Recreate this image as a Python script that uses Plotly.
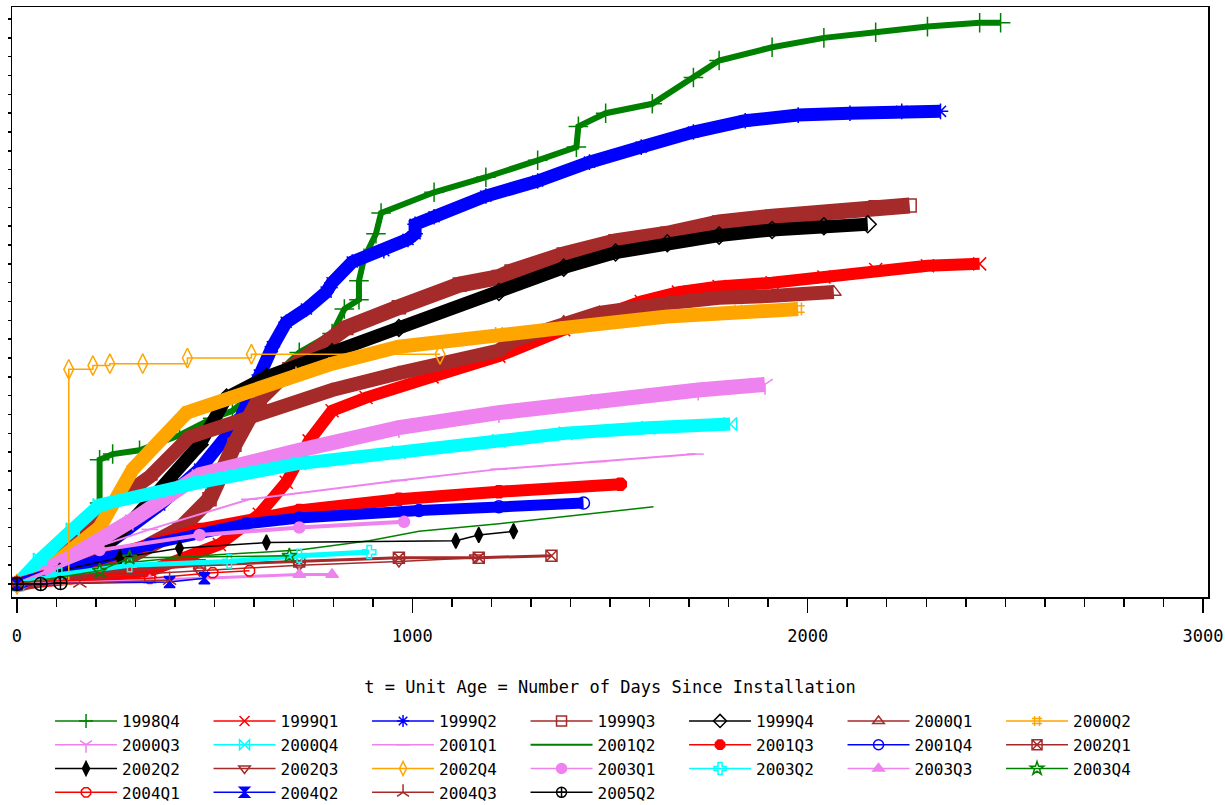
import plotly.graph_objects as go

# ---------------- data (t = days since installation, MCF value) ----------------
labels = ["1998Q4", "1999Q1", "1999Q2", "1999Q3", "1999Q4", "2000Q1", "2000Q2",
          "2000Q3", "2000Q4", "2001Q1", "2001Q2", "2001Q3", "2001Q4", "2002Q1",
          "2002Q2", "2002Q3", "2002Q4", "2003Q1", "2003Q2", "2003Q3", "2003Q4",
          "2004Q1", "2004Q2", "2004Q3", "2005Q2"]

d_1998Q4 = [0, 108, 209, 209, 242, 310, 411, 495, 545, 638, 714, 797, 828, 865, 865, 878, 908, 921,
            1055, 1186, 1317, 1415, 1420, 1489, 1607, 1711, 1776, 1910, 2041, 2172, 2303, 2435, 2488]
v_1998Q4 = [0, 0.13, 0.43, 0.66, 0.69, 0.71, 0.79, 0.88, 0.92, 1.08, 1.23, 1.33, 1.46, 1.51, 1.61, 1.73, 1.86, 1.97,
            2.08, 2.16, 2.25, 2.32, 2.43, 2.50, 2.55, 2.69, 2.78, 2.85, 2.90, 2.93, 2.96, 2.98, 2.98]

d_1999Q1 = [0, 336, 512, 613, 681, 739, 797, 883, 1050, 1219, 1383, 1489, 1579, 1673, 1776, 1910, 2041, 2172, 2303, 2435]
v_1999Q1 = [0, 0.07, 0.21, 0.37, 0.54, 0.76, 0.92, 0.99, 1.10, 1.21, 1.35, 1.44, 1.50, 1.55, 1.58, 1.60, 1.63, 1.67, 1.69, 1.70]

d_1999Q2 = [0, 209, 361, 462, 563, 613, 646, 681, 732, 782, 797, 848, 928, 989, 1007, 1007, 1055, 1186,
            1317, 1448, 1579, 1711, 1842, 1976, 2107, 2238, 2336]
v_1999Q2 = [0, 0.18, 0.42, 0.61, 0.87, 1.11, 1.26, 1.39, 1.46, 1.55, 1.60, 1.71, 1.77, 1.83, 1.86, 1.91, 1.95, 2.06,
            2.14, 2.24, 2.32, 2.40, 2.46, 2.49, 2.50, 2.51, 2.51]

d_1999Q3 = [0, 260, 411, 487, 550, 613, 689, 757, 833, 966, 1120, 1219, 1251, 1383, 1514, 1645, 1776, 1910, 2041, 2172, 2258]
v_1999Q3 = [0, 0.12, 0.29, 0.45, 0.74, 0.98, 1.14, 1.24, 1.36, 1.47, 1.59, 1.63, 1.66, 1.75, 1.82, 1.86, 1.92, 1.95, 1.97, 2.00, 2.01]

d_1999Q4 = [0, 209, 293, 386, 462, 530, 631, 797, 966, 1219, 1383, 1514, 1645, 1776, 1910, 2041, 2152]
v_1999Q4 = [0, 0.17, 0.34, 0.55, 0.74, 0.99, 1.10, 1.23, 1.36, 1.55, 1.68, 1.76, 1.81, 1.85, 1.88, 1.90, 1.91]

d_2000Q1 = [0, 108, 209, 336, 436, 631, 797, 966, 1219, 1251, 1383, 1473, 1645, 1776, 1910, 2066]
v_2000Q1 = [0, 0.13, 0.38, 0.57, 0.78, 0.92, 1.03, 1.12, 1.24, 1.29, 1.39, 1.44, 1.49, 1.52, 1.53, 1.55]

d_2000Q2 = [0, 108, 209, 293, 429, 545, 714, 797, 966, 1219, 1383, 1645, 1824, 1976]
v_2000Q2 = [0, 0.13, 0.30, 0.61, 0.91, 0.99, 1.12, 1.17, 1.26, 1.33, 1.36, 1.42, 1.45, 1.46]

d_2000Q3 = [0, 126, 293, 462, 714, 966, 1219, 1471, 1723, 1892]
v_2000Q3 = [0, 0.13, 0.34, 0.58, 0.71, 0.83, 0.91, 0.98, 1.03, 1.06]

d_2000Q4 = [0, 58, 141, 209, 462, 714, 966, 1219, 1388, 1597, 1804]
v_2000Q4 = [0, 0.13, 0.29, 0.42, 0.54, 0.64, 0.70, 0.76, 0.80, 0.83, 0.85]

d_2001Q1 = [0, 108, 336, 588, 966, 1219, 1471, 1716]
v_2001Q1 = [0, 0.13, 0.29, 0.45, 0.55, 0.61, 0.65, 0.69]

d_2001Q2 = [0, 209, 462, 714, 891, 1017, 1219, 1471, 1610]
v_2001Q2 = [0, 0.10, 0.15, 0.18, 0.23, 0.28, 0.32, 0.38, 0.41]

d_2001Q3 = [0, 209, 462, 714, 966, 1219, 1526]
v_2001Q3 = [0, 0.13, 0.29, 0.39, 0.45, 0.49, 0.53]

d_2001Q4 = [0, 159, 336, 580, 714, 1017, 1219, 1433]
v_2001Q4 = [0, 0.10, 0.21, 0.32, 0.35, 0.39, 0.41, 0.43]

d_2002Q1 = [0, 209, 462, 714, 966, 1168, 1352]
v_2002Q1 = [0, 0.06, 0.10, 0.12, 0.14, 0.14, 0.15]

d_2002Q2 = [0, 108, 260, 411, 631, 1110, 1168, 1256]
v_2002Q2 = [0, 0.07, 0.14, 0.19, 0.22, 0.23, 0.26, 0.28]

d_2002Q3 = [0, 209, 462, 714, 966, 1160]
v_2002Q3 = [0, 0.04, 0.07, 0.10, 0.12, 0.14]

d_2002Q4 = [0, 131, 192, 235, 318, 431, 593, 1070]
v_2002Q4 = [0, 1.14, 1.16, 1.17, 1.17, 1.20, 1.22, 1.22]

d_2003Q1 = [0, 83, 209, 462, 714, 979]
v_2003Q1 = [0, 0.07, 0.18, 0.26, 0.30, 0.33]

d_2003Q2 = [0, 108, 285, 537, 714, 891]
v_2003Q2 = [0, 0.05, 0.10, 0.12, 0.15, 0.17]

d_2003Q3 = [0, 336, 714, 797]
v_2003Q3 = [0, 0.02, 0.05, 0.05]

d_2003Q4 = [0, 209, 285, 689]
v_2003Q4 = [0, 0.07, 0.14, 0.15]

d_2004Q1 = [0, 336, 495, 588]
v_2004Q1 = [0.01, 0.03, 0.06, 0.07]

d_2004Q2 = [0, 386, 474]
v_2004Q2 = [0, 0.01, 0.03]

d_2004Q3 = [0, 159, 386]
v_2004Q3 = [0, 0.005, 0.02]

d_2005Q2 = [0, 60, 110]
v_2005Q2 = [0, 0, 0.005]

x_major_ticks = [0, 1000, 2000, 3000]
x_tick_labels = ["0", "1000", "2000", "3000"]
x_title = "t = Unit Age = Number of Days Since Installation"

# ---------------- styles ----------------
GREEN, RED, BLUE, BROWN = "#008000", "#FF0000", "#0000FF", "#A52A2A"
BLACK, ORANGE, VIOLET, CYAN = "#000000", "#FFA500", "#EE82EE", "#00FFFF"

# color, marker symbol, band (line) width, marker size, line shape
styles = {
    "1998Q4": (GREEN, "cross-thin", 6, 14, "linear"),
    "1999Q1": (RED, "x-thin", 12, 13, "linear"),
    "1999Q2": (BLUE, "asterisk", 13, 13, "linear"),
    "1999Q3": (BROWN, "square-open", 16, 13, "linear"),
    "1999Q4": (BLACK, "diamond-open", 13, 13, "linear"),
    "2000Q1": (BROWN, "triangle-up-open", 14, 13, "linear"),
    "2000Q2": (ORANGE, "hash", 14, 13, "linear"),
    "2000Q3": (VIOLET, "y-down", 15, 13, "linear"),
    "2000Q4": (CYAN, "bowtie-open", 13, 13, "linear"),
    "2001Q1": (VIOLET, "line-ew", 2, 12, "linear"),
    "2001Q2": (GREEN, None, 1.5, 0, "linear"),
    "2001Q3": (RED, "octagon", 12, 13, "linear"),
    "2001Q4": (BLUE, "circle-open", 11, 12, "linear"),
    "2002Q1": (BROWN, "square-x-open", 3, 11, "linear"),
    "2002Q2": (BLACK, "diamond-tall", 1.5, 11, "linear"),
    "2002Q3": (BROWN, "triangle-down-open", 1.5, 11, "linear"),
    "2002Q4": (ORANGE, "diamond-tall-open", 1.5, 14, "hv"),
    "2003Q1": (VIOLET, "circle-cross", 4, 11, "linear"),
    "2003Q2": (CYAN, "cross-open", 5, 11, "linear"),
    "2003Q3": (VIOLET, "triangle-up", 3, 11, "linear"),
    "2003Q4": (GREEN, "star-open", 1.5, 11, "linear"),
    "2004Q1": (RED, "octagon-open", 1.5, 11, "linear"),
    "2004Q2": (BLUE, "hourglass", 1.5, 11, "linear"),
    "2004Q3": (BROWN, "y-up-open", 1.5, 11, "linear"),
    "2005Q2": (BLACK, "circle-cross-open", 1.5, 13, "linear"),
}

series = {
    "1998Q4": (d_1998Q4, v_1998Q4), "1999Q1": (d_1999Q1, v_1999Q1),
    "1999Q2": (d_1999Q2, v_1999Q2), "1999Q3": (d_1999Q3, v_1999Q3),
    "1999Q4": (d_1999Q4, v_1999Q4), "2000Q1": (d_2000Q1, v_2000Q1),
    "2000Q2": (d_2000Q2, v_2000Q2), "2000Q3": (d_2000Q3, v_2000Q3),
    "2000Q4": (d_2000Q4, v_2000Q4), "2001Q1": (d_2001Q1, v_2001Q1),
    "2001Q2": (d_2001Q2, v_2001Q2), "2001Q3": (d_2001Q3, v_2001Q3),
    "2001Q4": (d_2001Q4, v_2001Q4), "2002Q1": (d_2002Q1, v_2002Q1),
    "2002Q2": (d_2002Q2, v_2002Q2), "2002Q3": (d_2002Q3, v_2002Q3),
    "2002Q4": (d_2002Q4, v_2002Q4), "2003Q1": (d_2003Q1, v_2003Q1),
    "2003Q2": (d_2003Q2, v_2003Q2), "2003Q3": (d_2003Q3, v_2003Q3),
    "2003Q4": (d_2003Q4, v_2003Q4), "2004Q1": (d_2004Q1, v_2004Q1),
    "2004Q2": (d_2004Q2, v_2004Q2), "2004Q3": (d_2004Q3, v_2004Q3),
    "2005Q2": (d_2005Q2, v_2005Q2),
}

FONT = "DejaVu Sans Mono"
fig = go.Figure()

# data traces (drawn in legend order, later cohorts on top)
for lab in labels:
    col, sym, lw, ms, shape = styles[lab]
    xs, ys = series[lab]
    if sym is None:
        fig.add_trace(go.Scatter(x=xs, y=ys, mode="lines", line=dict(color=col, width=lw, shape=shape),
                                 showlegend=False, hoverinfo="skip"))
    else:
        fig.add_trace(go.Scatter(x=xs, y=ys, mode="lines+markers",
                                 line=dict(color=col, width=lw, shape=shape),
                                 marker=dict(symbol=sym, size=ms, color=col, line=dict(color=col, width=1.5)),
                                 showlegend=False, hoverinfo="skip"))

# legend-only entries with thin symbol lines
for lab in labels:
    col, sym, lw, ms, shape = styles[lab]
    if sym is None:
        fig.add_trace(go.Scatter(x=[None], y=[None], mode="lines", name=lab,
                                 line=dict(color=col, width=2)))
    else:
        fig.add_trace(go.Scatter(x=[None], y=[None], mode="lines+markers", name=lab,
                                 line=dict(color=col, width=1.5),
                                 marker=dict(symbol=sym, size=10, color=col, line=dict(color=col, width=1.5))))

fig.update_layout(
    width=1225, height=805,
    margin=dict(l=12, r=17, t=7, b=208, autoexpand=False),
    paper_bgcolor="white", plot_bgcolor="white",
    font=dict(family=FONT, size=17, color="black"),
    showlegend=True,
    legend=dict(orientation="h", x=0.0318, xanchor="left", y=-0.1814, yanchor="top",
                entrywidth=81.5, entrywidthmode="pixels", itemwidth=62,
                traceorder="normal", font=dict(family=FONT, size=16, color="black"),
                bgcolor="rgba(0,0,0,0)", tracegroupgap=0),
    xaxis=dict(range=[-12.6, 3012.6], tickmode="array", tickvals=x_major_ticks, ticktext=x_tick_labels,
               ticks="outside", ticklen=14, tickwidth=1.5, tickcolor="black", ticklabelstandoff=9,
               minor=dict(dtick=100, ticks="outside", ticklen=8, tickwidth=1.5, tickcolor="black", showgrid=False),
               showgrid=False, zeroline=False, showline=True, linecolor="black", linewidth=1.5, mirror=True,
               tickfont=dict(family=FONT, size=17), title=dict(text=x_title, font=dict(family=FONT, size=17), standoff=36)),
    yaxis=dict(range=[-0.069, 3.064], tickmode="linear", tick0=0, dtick=0.1, showticklabels=False,
               ticks="outside", ticklen=3, tickwidth=1.5, tickcolor="black",
               showgrid=False, zeroline=False, showline=True, linecolor="black", linewidth=1.5, mirror=True),
)

# remove the browser's default body margin so the figure sits at the page origin
fig.write_html("out.html", config={"displayModeBar": False, "staticPlot": True},
               post_script="document.body.style.margin='0px';")
